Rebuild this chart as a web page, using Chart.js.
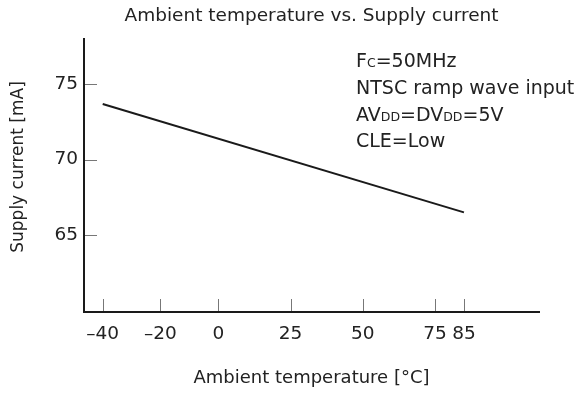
<!DOCTYPE html>
<html>
<head>
<meta charset="utf-8">
<script src="https://cdn.jsdelivr.net/npm/chart.js@4/dist/chart.umd.min.js"></script>
<style>
  html, body { margin: 0; padding: 0; background: #ffffff; }
  #wrap { width: 580px; height: 394px; }
</style>
</head>
<body>
<div id="wrap"><canvas id="c" width="580" height="394"></canvas></div>
<script>
// ---- data ----
const chartTitle = 'Ambient temperature vs. Supply current';
const xTitle = 'Ambient temperature [°C]';
const yTitle = 'Supply current [mA]';
const temperatures = [-40, 85];
const supplyCurrent = [73.7, 66.5];
const xTickValues = [-40, -20, 0, 25, 50, 75, 85];
const xTickLabels = ['–40', '–20', '0', '25', '50', '75', '85'];
const yTickValues = [65, 70, 75];
const yTickLabels = ['65', '70', '75'];
const conditionLines = [
  [['F', 'big'], ['C', 'small'], ['=50MHz', 'big']],
  [['NTSC ramp wave input', 'big']],
  [['AV', 'big'], ['DD', 'small'], ['=DV', 'big'], ['DD', 'small'], ['=5V', 'big']],
  [['CLE=Low', 'big']]
];

const FONT = '"DejaVu Sans", sans-serif';
const INK = '#222222';

const decorations = {
  id: 'decorations',
  afterDatasetsDraw(chart) {
    const { ctx, chartArea, scales: { x, y } } = chart;
    ctx.save();
    // inward tick marks
    ctx.strokeStyle = '#777777';
    ctx.lineWidth = 1;
    ctx.beginPath();
    x.ticks.forEach(t => {
      const px = Math.round(x.getPixelForValue(t.value)) + 0.5;
      ctx.moveTo(px, chartArea.bottom - 1);
      ctx.lineTo(px, chartArea.bottom - 13);
    });
    y.ticks.forEach(t => {
      const py = Math.round(y.getPixelForValue(t.value)) + 0.5;
      ctx.moveTo(chartArea.left + 1, py);
      ctx.lineTo(chartArea.left + 13, py);
    });
    ctx.stroke();

    // y axis title
    ctx.fillStyle = INK;
    ctx.font = '17px ' + FONT;
    ctx.textAlign = 'center';
    ctx.textBaseline = 'alphabetic';
    ctx.translate(22.5, 167);
    ctx.rotate(-Math.PI / 2);
    ctx.fillText(yTitle, 0, 0);
    ctx.restore();

    // condition notes
    ctx.save();
    ctx.fillStyle = INK;
    ctx.textAlign = 'left';
    ctx.textBaseline = 'alphabetic';
    const baseX = 356;
    const baselines = [66.7, 94, 120.7, 147.3];
    conditionLines.forEach((segs, i) => {
      let cx = baseX;
      segs.forEach(([txt, size]) => {
        ctx.font = (size === 'big' ? '19px ' : '12.5px ') + FONT;
        ctx.fillText(txt, cx, baselines[i]);
        cx += ctx.measureText(txt).width;
      });
    });
    ctx.restore();
  }
};

new Chart(document.getElementById('c'), {
  type: 'line',
  data: {
    datasets: [{
      data: temperatures.map((t, i) => ({ x: t, y: supplyCurrent[i] })),
      borderColor: '#1a1a1a',
      borderWidth: 2,
      pointRadius: 0,
      fill: false,
      tension: 0
    }]
  },
  plugins: [decorations],
  options: {
    responsive: false,
    animation: false,
    devicePixelRatio: 1,
    layout: { padding: { left: 0, right: 41, top: 0, bottom: 0 } },
    plugins: {
      legend: { display: false },
      tooltip: { enabled: false },
      title: {
        display: true,
        text: chartTitle,
        fullSize: false,
        color: INK,
        font: { family: FONT, size: 18.5, weight: 'normal', lineHeight: 1.2 },
        padding: { top: 5, bottom: 12 }
      }
    },
    scales: {
      x: {
        type: 'linear',
        min: -46.47,
        max: 110.97,
        afterFit: s => { s.height = 82; },
        afterBuildTicks: s => { s.ticks = xTickValues.map(v => ({ value: v })); },
        grid: { display: false, drawTicks: false },
        border: { display: true, color: '#1a1a1a', width: 2 },
        ticks: {
          color: INK,
          padding: 11,
          maxRotation: 0,
          autoSkip: false,
          font: { family: FONT, size: 18.5 },
          callback: v => xTickLabels[xTickValues.indexOf(v)]
        },
        title: {
          display: true,
          text: xTitle,
          color: INK,
          font: { family: FONT, size: 18 },
          padding: { top: 0, bottom: 5 }
        }
      },
      y: {
        type: 'linear',
        min: 59.88,
        max: 78.0,
        afterFit: s => { s.width = 84; },
        afterBuildTicks: s => { s.ticks = yTickValues.map(v => ({ value: v })); },
        grid: { display: false, drawTicks: false },
        border: { display: true, color: '#1a1a1a', width: 2 },
        ticks: {
          color: INK,
          padding: 6,
          autoSkip: false,
          font: { family: FONT, size: 18.5 },
          callback: v => yTickLabels[yTickValues.indexOf(v)]
        }
      }
    }
  }
});
</script>
</body>
</html>
